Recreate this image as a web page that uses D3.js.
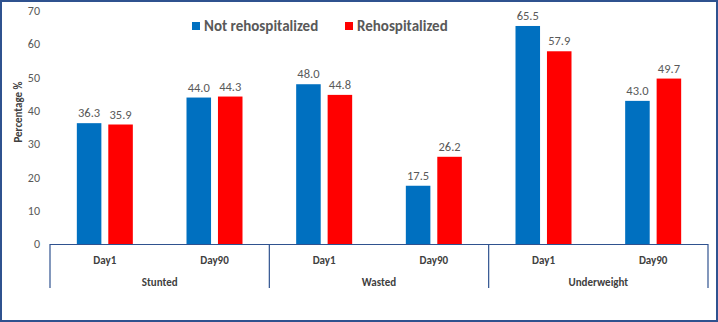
<!DOCTYPE html>
<html>
<head>
<meta charset="utf-8">
<script src="https://cdn.jsdelivr.net/npm/d3@7"></script>
<style>
  body { margin: 0; background: #fff; }
  svg { display: block; font-family: Calibri, Carlito, Lato, "Open Sans", sans-serif; }
</style>
</head>
<body>
<svg id="chart"></svg>
<script>
const groups = ["Stunted", "Wasted", "Underweight"];
const days = ["Day1", "Day90"];
const seriesNames = ["Not rehospitalized", "Rehospitalized"];
const notRehosp = [36.3, 44.0, 48.0, 17.5, 65.5, 43.0];
const rehosp = [35.9, 44.3, 44.8, 26.2, 57.9, 49.7];
const yTicks = [0, 10, 20, 30, 40, 50, 60, 70];

const width = 718,
      height = 322,
      margin = {top: 11, left: 50, right: 10, bottom: 78},
      svg = d3.select("#chart")
              .attr("width", width)
              .attr("height", height);

const color = d3.scaleOrdinal()
    .domain(seriesNames)
    .range(["#0070C0", "#FF0000"]);

// one row per group/day pair
const rows = [];
groups.forEach((g, gi) => {
    days.forEach((d, di) => {
        const i = gi * days.length + di;
        rows.push({key: `${g}-${d}`, group: g, day: d, values: [notRehosp[i], rehosp[i]]});
    });
});

const x0 = d3.scaleBand()
    .domain(rows.map((r) => r.key))
    .range([margin.left, width - margin.right]);

const x1 = d3.scaleBand()
    .domain(seriesNames)
    .range([x0.bandwidth() / 2 - 28, x0.bandwidth() / 2 + 28])
    .paddingInner(0.22);

const xg = d3.scaleBand()
    .domain(groups)
    .range([margin.left, width - margin.right]);

const y = d3.scaleLinear()
    .domain([0, 70])
    .range([height - margin.bottom, margin.top]);

// chart border
svg.append("rect")
    .attr("x", 1).attr("y", 1)
    .attr("width", width - 2).attr("height", height - 2)
    .attr("fill", "none")
    .attr("stroke", "#2F528F")
    .attr("stroke-width", 2);

// y axis labels
svg.append("g")
    .selectAll("text")
    .data(yTicks)
    .enter().append("text")
        .attr("x", 40)
        .attr("y", (d) => y(d))
        .attr("dy", "0.35em")
        .attr("text-anchor", "end")
        .attr("fill", "#595959")
        .style("font-size", "12px")
        .text((d) => d);

svg.append("text")
    .attr("transform", `translate(${[22, 112]}) rotate(-90)`)
    .attr("text-anchor", "middle")
    .attr("fill", "#404040")
    .style("font-size", "11px")
    .style("font-weight", "bold")
    .text("Percentage %");

// bars
const cat = svg.append("g")
    .selectAll(".cat")
    .data(rows)
    .enter().append("g")
        .attr("class", "cat")
        .attr("transform", (d) => `translate(${x0(d.key)},0)`);

const bar = cat.selectAll(".bar")
    .data((d) => d.values.map((v, i) => ({name: seriesNames[i], value: v})))
    .enter().append("g")
        .attr("class", "bar");

bar.append("rect")
    .attr("x", (d) => x1(d.name))
    .attr("y", (d) => y(d.value))
    .attr("width", x1.bandwidth())
    .attr("height", (d) => y(0) - y(d.value))
    .attr("fill", (d) => color(d.name));

bar.append("text")
    .attr("x", (d) => x1(d.name) + x1.bandwidth() / 2)
    .attr("y", (d) => y(d.value) - 6)
    .attr("text-anchor", "middle")
    .attr("fill", "#595959")
    .style("font-size", "12.5px")
    .text((d) => d3.format(".1f")(d.value));

// x axis: baseline, separators, day and group labels
const axis = svg.append("g").attr("stroke", "#2F528F");
const base = y(0);

axis.append("line")
    .attr("x1", margin.left).attr("x2", width - margin.right)
    .attr("y1", base + 0.5).attr("y2", base + 0.5)
    .attr("stroke-width", 1.2);

axis.selectAll(".sep")
    .data(groups.map((g) => xg(g)).concat([width - margin.right]))
    .enter().append("line")
        .attr("class", "sep")
        .attr("x1", (d) => d).attr("x2", (d) => d)
        .attr("y1", base).attr("y2", base + 44)
        .attr("stroke-width", 1.2);

svg.append("g")
    .selectAll("text")
    .data(rows)
    .enter().append("text")
        .attr("x", (d) => x0(d.key) + x0.bandwidth() / 2)
        .attr("y", base + 16)
        .attr("dy", "0.35em")
        .attr("text-anchor", "middle")
        .attr("fill", "#404040")
        .style("font-size", "11px")
        .style("font-weight", "bold")
        .text((d) => d.day);

svg.append("g")
    .selectAll("text")
    .data(groups)
    .enter().append("text")
        .attr("x", (d) => xg(d) + xg.bandwidth() / 2)
        .attr("y", base + 38)
        .attr("dy", "0.35em")
        .attr("text-anchor", "middle")
        .attr("fill", "#404040")
        .style("font-size", "11px")
        .style("font-weight", "bold")
        .text((d) => d);

// legend
const legendX = [192, 345];
const legend = svg.append("g")
    .selectAll(".legend")
    .data(seriesNames)
    .enter().append("g")
        .attr("class", "legend")
        .attr("transform", (d, i) => `translate(${[legendX[i], 26]})`);

legend.append("rect")
    .attr("x", 0).attr("y", -4)
    .attr("width", 8).attr("height", 8)
    .attr("fill", (d) => color(d));

legend.append("text")
    .attr("x", 12)
    .attr("dy", "0.35em")
    .attr("fill", "#595959")
    .style("font-size", "15px")
    .style("font-weight", "bold")
    .text((d) => d);
</script>
</body>
</html>
